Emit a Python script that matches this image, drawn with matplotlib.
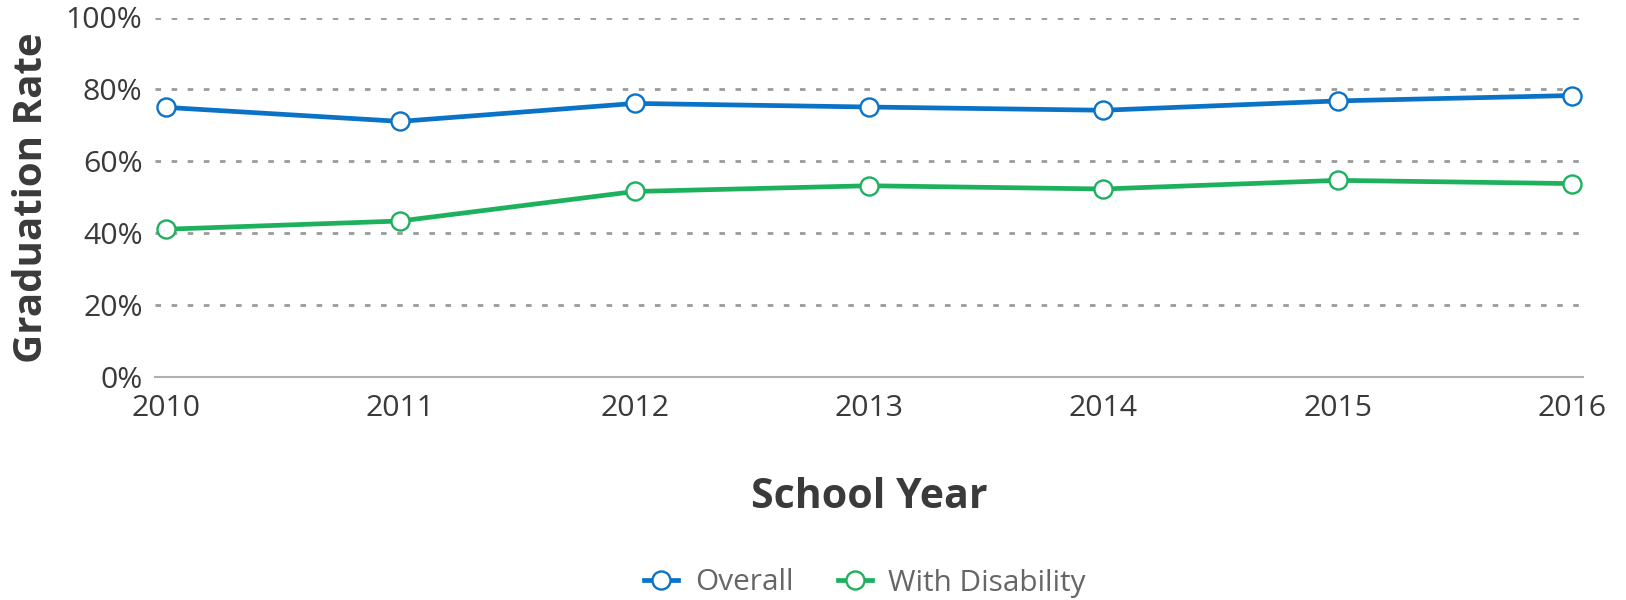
import matplotlib
matplotlib.use("Agg")
from matplotlib import pyplot as plt
from matplotlib.ticker import FuncFormatter

plt.rcParams['font.family'] = ['Open Sans', 'DejaVu Sans']

#####################################################################
# Data
years = [2010, 2011, 2012, 2013, 2014, 2015, 2016]
overall = [75.0, 71.1, 76.1, 75.1, 74.2, 76.8, 78.3]
with_disability = [41.1, 43.4, 51.6, 53.2, 52.3, 54.7, 53.8]

blue = "#0a73c6"
green = "#1db15d"

#####################################################################
# Figure
fig = plt.figure(figsize=(16.26, 6.0), dpi=100)
ax = fig.add_axes([155 / 1626, 1 - 377 / 600, 1428 / 1626, 359.5 / 600])

for vals, col, name in [(overall, blue, "Overall"), (with_disability, green, "With Disability")]:
    ax.plot(years, vals, color=col, lw=3.4, marker="o", markersize=13,
            markerfacecolor="white", markeredgecolor=col, markeredgewidth=1.7,
            label=name, clip_on=False, zorder=3)

ax.set_xlim(2010 - 0.047, 2016 + 0.047)
ax.set_ylim(0, 100)
ax.set_xticks(years)
ax.set_yticks(range(0, 101, 20))
ax.yaxis.set_major_formatter(FuncFormatter(lambda v, p: f"{int(v)}%"))

ax.grid(axis="y", color="#9a9a9a", lw=2.0, linestyle=(0, (2.0, 3.8)), zorder=1)
ax.grid(axis="x", visible=False)
for s in ["top", "right", "left"]:
    ax.spines[s].set_visible(False)
ax.spines["bottom"].set_color("#b0b0b0")
ax.spines["bottom"].set_linewidth(1.5)

ax.tick_params(axis="both", length=0, labelsize=21.8, labelcolor="#3a3a3a")
ax.tick_params(axis="y", pad=9)
ax.tick_params(axis="x", pad=12)

ax.set_ylabel("Graduation Rate", fontsize=29, fontweight="bold", color="#3a3a3a", va="center")
ax.yaxis.set_label_coords(-0.0868, 0.5)
ax.set_xlabel("School Year", fontsize=29.5, fontweight="bold", color="#3a3a3a", va="center")
ax.xaxis.set_label_coords(0.5, -0.334)

leg = fig.legend(loc="center", bbox_to_anchor=(0.532, 1 - 583 / 600), ncol=2,
                 frameon=False, fontsize=21.4, handlelength=1.15, handletextpad=0.55,
                 columnspacing=1.5, markerscale=1.0, borderpad=0.1)
for t in leg.get_texts():
    t.set_color("#666666")

fig.savefig("out.png", dpi=100)
